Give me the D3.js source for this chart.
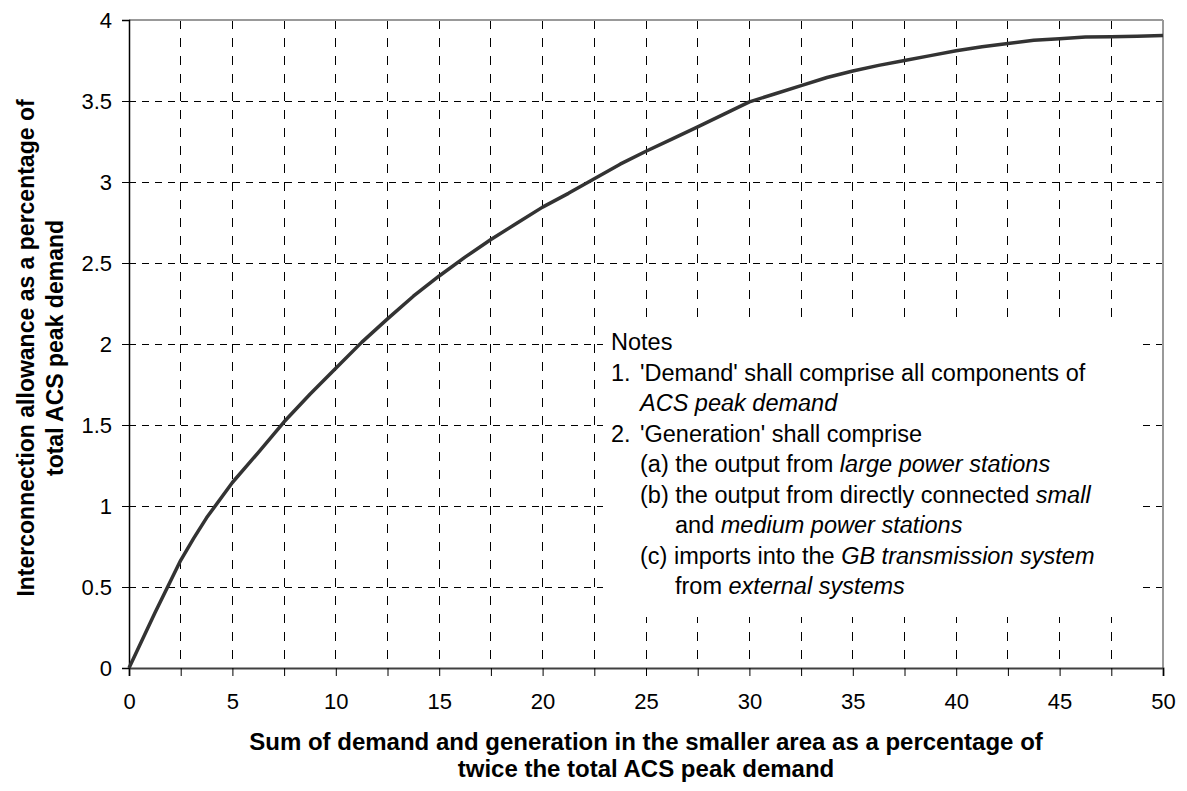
<!DOCTYPE html>
<html>
<head>
<meta charset="utf-8">
<script src="https://cdn.jsdelivr.net/npm/d3@7"></script>
<style>
  html, body { margin: 0; padding: 0; background: #fff; }
  svg { display: block; font-family: "Liberation Sans", Arial, sans-serif; }
</style>
</head>
<body>
<svg id="chart" width="1187" height="791"></svg>
<script>
// ---- Data ----
const xValues = [0, 1.25, 2.5, 3.125, 3.75, 5, 6.25, 7.5, 8.75, 10, 11.25, 12.5, 13.75, 15, 16.25, 17.5, 18.75, 20, 21.25, 22.5, 23.75, 25, 26.25, 27.5, 28.75, 30, 31.25, 32.5, 33.75, 35, 36.25, 37.5, 38.75, 40, 41.25, 42.5, 43.75, 45, 46.25, 47.5, 48.75, 50];
const yValues = [0, 0.34, 0.665, 0.80, 0.927, 1.145, 1.33, 1.52, 1.69, 1.85, 2.01, 2.155, 2.295, 2.42, 2.536, 2.645, 2.745, 2.845, 2.93, 3.02, 3.11, 3.19, 3.265, 3.34, 3.417, 3.495, 3.545, 3.595, 3.645, 3.685, 3.72, 3.75, 3.78, 3.81, 3.835, 3.855, 3.875, 3.885, 3.895, 3.897, 3.90, 3.905];
const xTickLabels = [0, 5, 10, 15, 20, 25, 30, 35, 40, 45, 50];
const xGridValues = [0, 2.5, 5, 7.5, 10, 12.5, 15, 17.5, 20, 22.5, 25, 27.5, 30, 32.5, 35, 37.5, 40, 42.5, 45, 47.5, 50];
const yTickLabels = [0, 0.5, 1, 1.5, 2, 2.5, 3, 3.5, 4];
const xTitleLines = ["Sum of demand and generation in the smaller area as a percentage of", "twice the total ACS peak demand"];
const yTitleLines = ["Interconnection allowance as a percentage of", "total ACS peak demand"];
// notes: [indent level, segments] or [0, numberSegments, textSegments]
const notesLines = [
  [0, [["Notes", false]]],
  [0, [["1.", false]], [["'Demand' shall comprise all components of", false]]],
  [1, [["ACS peak demand", true]]],
  [0, [["2.", false]], [["'Generation' shall comprise", false]]],
  [1, [["(a) the output from ", false], ["large power stations", true]]],
  [1, [["(b) the output from directly connected ", false], ["small", true]]],
  [2, [["and ", false], ["medium power stations", true]]],
  [1, [["(c) imports into the ", false], ["GB transmission system", true]]],
  [2, [["from ", false], ["external systems", true]]]
];

// ---- Layout ----
const pLeft = 129, pTop = 20, pRight = 1163, pBottom = 668;
const svg = d3.select("#chart");

const x = d3.scaleLinear().domain([0, 50]).range([pLeft, pRight]);
const y = d3.scaleLinear().domain([0, 4]).range([pBottom, pTop]);

// Gridlines
const grid = svg.append("g");
grid.selectAll("line.v").data(xGridValues.filter(d => d > 0 && d < 50)).enter().append("line")
  .attr("x1", d => x(d)).attr("x2", d => x(d))
  .attr("y1", pTop).attr("y2", pBottom)
  .attr("stroke", "#000").attr("stroke-width", 1)
  .attr("stroke-dasharray", "9,9")
  .attr("shape-rendering", "crispEdges");
grid.selectAll("line.h").data(yTickLabels.filter(d => d > 0 && d < 4)).enter().append("line")
  .attr("x1", pLeft).attr("x2", pRight)
  .attr("y1", d => y(d)).attr("y2", d => y(d))
  .attr("stroke", "#000").attr("stroke-width", 1)
  .attr("stroke-dasharray", "7,6")
  .attr("shape-rendering", "crispEdges");

// Notes box (white, covers grid)
svg.append("rect")
  .attr("x", 603).attr("y", 318).attr("width", 540).attr("height", 299)
  .attr("fill", "#fff");

// Frame top/right (gray)
svg.append("line").attr("x1", pLeft).attr("x2", pRight).attr("y1", pTop).attr("y2", pTop)
  .attr("stroke", "#999").attr("stroke-width", 2);
svg.append("line").attr("x1", pRight).attr("x2", pRight).attr("y1", pTop).attr("y2", pBottom)
  .attr("stroke", "#999").attr("stroke-width", 2);

// Axes
const xAxis = d3.axisBottom(x).tickValues(xGridValues).tickSize(8).tickFormat("");
const gx = svg.append("g").attr("transform", `translate(0,${pBottom})`).call(xAxis);
gx.select(".domain").attr("stroke", "#404040").attr("stroke-width", 2);
gx.selectAll(".tick line").attr("stroke", "#000").attr("stroke-width", 1);

const xLab = svg.append("g").attr("transform", `translate(0,${pBottom})`)
  .call(d3.axisBottom(x).tickValues(xTickLabels).tickSize(0).tickPadding(25).tickFormat(d => d));
xLab.select(".domain").remove();
xLab.selectAll("text").attr("font-size", 22).attr("fill", "#000")
  .attr("font-family", "Liberation Sans, Arial, sans-serif");

const yAxis = d3.axisLeft(y).tickValues(yTickLabels).tickSize(7).tickPadding(10).tickFormat(d => d);
const gy = svg.append("g").attr("transform", `translate(${pLeft},0)`).call(yAxis);
gy.select(".domain").attr("stroke", "#000").attr("stroke-width", 1.5);
gy.selectAll(".tick line").attr("stroke", "#000").attr("stroke-width", 1);
gy.selectAll("text").attr("font-size", 22).attr("fill", "#000")
  .attr("font-family", "Liberation Sans, Arial, sans-serif");

// Curve
const pts = xValues.map((v, i) => [v, yValues[i]]);
svg.append("path").datum(pts)
  .attr("d", d3.line().x(d => x(d[0])).y(d => y(d[1])))
  .attr("fill", "none").attr("stroke", "#333").attr("stroke-width", 3.5)
  .attr("stroke-linejoin", "round");

// Axis titles
const cx = (pLeft + pRight) / 2;
svg.append("text").attr("x", cx).attr("y", 750).attr("text-anchor", "middle")
  .attr("font-size", 24).attr("font-weight", "bold").text(xTitleLines[0]);
svg.append("text").attr("x", cx).attr("y", 777).attr("text-anchor", "middle")
  .attr("font-size", 24).attr("font-weight", "bold").text(xTitleLines[1]);

const cy = 348;
svg.append("text").attr("transform", `translate(34,${cy}) rotate(-90)`).attr("text-anchor", "middle")
  .attr("font-size", 23).attr("font-weight", "bold").text(yTitleLines[0]);
svg.append("text").attr("transform", `translate(63,${cy}) rotate(-90)`).attr("text-anchor", "middle")
  .attr("font-size", 23).attr("font-weight", "bold").text(yTitleLines[1]);

// Notes
const indentX = [611, 640, 675];
const notes = svg.append("g").attr("font-size", 23.5).attr("fill", "#000");
notesLines.forEach((ln, i) => {
  const baseY = 350 + i * 30.5;
  if (ln.length === 3) {
    const t1 = notes.append("text").attr("x", indentX[0]).attr("y", baseY);
    ln[1].forEach(s => t1.append("tspan").attr("font-style", s[1] ? "italic" : "normal").text(s[0]));
    const t2 = notes.append("text").attr("x", indentX[1]).attr("y", baseY);
    ln[2].forEach(s => t2.append("tspan").attr("font-style", s[1] ? "italic" : "normal").text(s[0]));
  } else {
    const t = notes.append("text").attr("x", indentX[ln[0]]).attr("y", baseY).attr("xml:space", "preserve");
    ln[1].forEach(s => t.append("tspan").attr("font-style", s[1] ? "italic" : "normal").text(s[0]));
  }
});
</script>
</body>
</html>
